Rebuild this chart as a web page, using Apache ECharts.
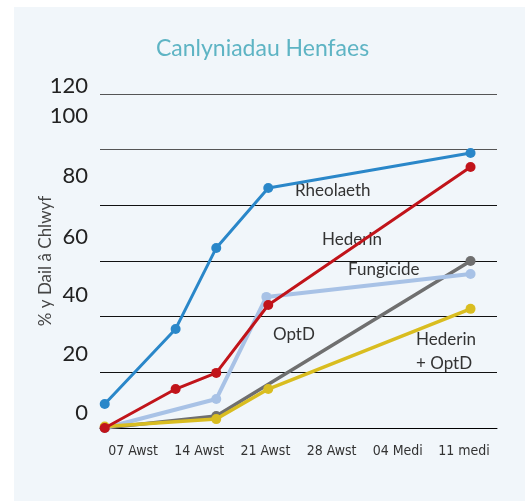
<!DOCTYPE html>
<html lang="cy">
    <head>
        <meta charset="utf-8">
        <title>Canlyniadau Henfaes</title>
        <style>
            body { margin: 0; background: #ffffff; }
            #wrap { position: relative; width: 525px; height: 501px; }
            #panel { position: absolute; left: 14px; top: 7px; right: 0; bottom: 0; background: #f1f6fa; }
            #echart { position: absolute; left: 0; top: 0; width: 525px; height: 501px; }
        </style>
    </head>

    <body>
        <div id="wrap">
            <div id="panel"></div>
            <div id="echart"></div>
        </div>
        <script src="https://cdn.jsdelivr.net/npm/echarts@6/dist/echarts.min.js"></script>
        <script>
            // dates along the bottom (6 weekly slots)
            let dates = ['07 Awst', '14 Awst', '21 Awst', '28 Awst', '04 Medi', '11 medi'];
            let yTicks = [0, 20, 40, 60, 80, 100, 120];

            // x values are days from the start of the first slot
            let rheolaethX = [0.5, 8, 12.3, 17.8, 39.2];
            let rheolaethY = [8.6, 35.6, 64.7, 86.2, 98.8];

            let hederinX = [0.5, 8, 12.3, 17.8, 39.2];
            let hederinY = [0, 14, 19.8, 44.2, 93.8];

            let fungicideX = [0.5, 12.3, 17.6, 39.2];
            let fungicideY = [0, 10.4, 47.1, 55.3];

            let optdX = [0.5, 12.3, 39.2];
            let optdY = [0, 4.3, 60];

            let hedOptdX = [0.5, 12.3, 17.8, 39.2];
            let hedOptdY = [0.5, 3.2, 14, 42.8];

            function pairs(xs, ys) {
                return xs.map((x, i) => [x, ys[i]]);
            }

            // the tick labels sit a little above their lines in the original
            let labelLift = {0: 15, 20: 18, 40: 22, 60: 24, 80: 29, 100: 34, 120: 8};
            let rich = {};
            yTicks.forEach(v => {
                rich['t' + v] = {
                    fontSize: 22, color: '#222', fontFamily: 'Lato',
                    padding: [0, 0, labelLift[v] * 2, 0]
                };
            });

            let myChart = echarts.init(document.getElementById('echart'));

            function line(name, data, color, width, z) {
                return {
                    name: name,
                    type: 'line',
                    xAxisIndex: 1,
                    data: data,
                    symbol: 'circle',
                    symbolSize: 10,
                    z: z,
                    lineStyle: {color: color, width: width},
                    itemStyle: {color: color}
                };
            }

            let labelStyle = {fontFamily: 'Lato', fontSize: 17, fill: '#333'};

            let option = {
                animation: false,
                backgroundColor: 'transparent',
                title: {
                    text: 'Canlyniadau Henfaes',
                    left: 'center',
                    top: 32,
                    textStyle: {color: '#5eb4c4', fontSize: 23, fontWeight: 'normal', fontFamily: 'Lato'}
                },
                grid: {left: 100, right: 28, top: 94, bottom: 73},
                xAxis: [
                    {
                        type: 'category',
                        data: dates,
                        axisLine: {lineStyle: {color: '#000', width: 1}},
                        axisTick: {show: false},
                        axisLabel: {
                            interval: 0,
                            hideOverlap: false,
                            color: '#333', fontSize: 14, margin: 16,
                            fontFamily: '"DejaVu Sans Condensed", "Liberation Sans", sans-serif'
                        }
                    },
                    {
                        type: 'value',
                        min: 0,
                        max: 42,
                        show: false
                    }
                ],
                yAxis: {
                    type: 'value',
                    min: 0,
                    max: 120,
                    interval: 20,
                    name: '% y Dail â Chlwyf',
                    nameLocation: 'middle',
                    nameGap: 46,
                    nameMoveOverlap: false,
                    nameTextStyle: {color: '#444', fontSize: 17, fontFamily: 'Lato'},
                    axisLine: {show: false},
                    axisTick: {show: false},
                    axisLabel: {
                        margin: 12,
                        formatter: v => '{t' + v + '|' + v + '}',
                        rich: rich
                    },
                    splitLine: {
                        lineStyle: {
                            color: ['#000', '#111', '#111', '#111', '#111', '#555', '#555'],
                            width: 1
                        }
                    }
                },
                series: [
                    line('OptD', pairs(optdX, optdY), '#6f6f6f', 3.5, 2),
                    line('Fungicide', pairs(fungicideX, fungicideY), '#a8c2e6', 4, 3),
                    line('Hederin + OptD', pairs(hedOptdX, hedOptdY), '#d9bd20', 3.5, 4),
                    line('Hederin', pairs(hederinX, hederinY), '#c1141a', 3, 5),
                    line('Rheolaeth', pairs(rheolaethX, rheolaethY), '#2a87c9', 3, 6)
                ],
                graphic: [
                    {type: 'text', left: 295, top: 182, style: Object.assign({text: 'Rheolaeth'}, labelStyle)},
                    {type: 'text', left: 322, top: 231, style: Object.assign({text: 'Hederin'}, labelStyle)},
                    {type: 'text', left: 348, top: 261, style: Object.assign({text: 'Fungicide'}, labelStyle)},
                    {type: 'text', left: 273, top: 326, style: Object.assign({text: 'OptD'}, labelStyle)},
                    {type: 'text', left: 416, top: 331, style: Object.assign({text: 'Hederin'}, labelStyle)},
                    {type: 'text', left: 416, top: 355, style: Object.assign({text: '+ OptD'}, labelStyle)}
                ]
            };
            myChart.setOption(option);
        </script>
    </body>
</html>
